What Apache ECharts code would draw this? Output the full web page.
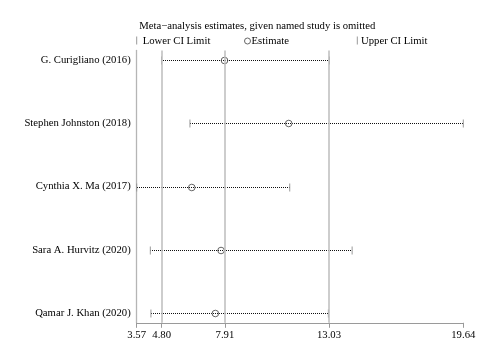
<!DOCTYPE html>
<html>
<head>
<meta charset="utf-8">
<script src="https://cdn.jsdelivr.net/npm/echarts@6/dist/echarts.min.js"></script>
<style>html,body{margin:0;padding:0;background:#fff}#c{width:499px;height:360px}</style>
</head>
<body>
<div id="c"></div>
<script>
// Studies (top to bottom)
const studies = ["G. Curigliano (2016)", "Stephen Johnston (2018)", "Cynthia X. Ma (2017)", "Sara A. Hurvitz (2020)", "Qamar J. Khan (2020)"];
const lowerCI = [4.79, 6.19, 3.57, 4.24, 4.27];
const estimate = [7.89, 11.05, 6.28, 7.72, 7.44];
const upperCI = [13.05, 19.64, 11.10, 14.17, 13.00];
// Overall reference lines (lower, estimate, upper)
const refLines = [4.80, 7.91, 13.03];
const xTicks = [3.57, 4.80, 7.91, 13.03, 19.64];
const xMin = 3.57, xMax = 19.64;

const FONT = "Liberation Serif";
const n = studies.length;
const rowPos = studies.map((s, i) => n - i); // top row = n
const data = studies.map((s, i) => [lowerCI[i], estimate[i], upperCI[i], rowPos[i]]);

const chart = echarts.init(document.getElementById('c'), null, {renderer: 'canvas'});
chart.setOption({
  animation: false,
  backgroundColor: '#fff',
  grid: {left: 136.7, right: 35.7, top: 50.5, bottom: 37.2},
  xAxis: {
    type: 'value', min: xMin, max: xMax,
    axisLine: {show: true, lineStyle: {color: '#9a9a9a', width: 1}},
    axisTick: {show: true, length: 5, customValues: xTicks, lineStyle: {color: '#9a9a9a'}},
    axisLabel: {customValues: xTicks, formatter: v => v.toFixed(2), color: '#000', fontFamily: FONT, fontSize: 10.7, margin: 7},
    splitLine: {show: false}
  },
  yAxis: {
    type: 'value', min: 0.85, max: n + 0.15,
    axisLine: {show: true, lineStyle: {color: '#b5b5b5', width: 1.3}},
    axisTick: {show: false},
    axisLabel: {customValues: rowPos, formatter: v => studies[n - Math.round(v)], color: '#000', fontFamily: FONT, fontSize: 10.7, margin: 6},
    splitLine: {show: false}
  },
  series: [{
    type: 'custom',
    data: data,
    encode: {x: [0, 1, 2], y: 3},
    renderItem: function (params, api) {
      const y = api.value(3);
      const pL = api.coord([api.value(0), y]);
      const pE = api.coord([api.value(1), y]);
      const pU = api.coord([api.value(2), y]);
      const py = Math.round(pL[1]) + 0.5;
      return {
        type: 'group',
        children: [
          {type: 'line', shape: {x1: Math.round(pL[0]), y1: py, x2: Math.round(pU[0]), y2: py},
           style: {stroke: '#111', lineWidth: 1, lineDash: [1, 1]}},
          {type: 'line', shape: {x1: pL[0], y1: py - 4, x2: pL[0], y2: py + 4},
           style: {stroke: '#999', lineWidth: 1}},
          {type: 'line', shape: {x1: pU[0], y1: py - 4, x2: pU[0], y2: py + 4},
           style: {stroke: '#999', lineWidth: 1}},
          {type: 'circle', shape: {cx: pE[0], cy: py, r: 3.3},
           style: {stroke: '#666', fill: 'none', lineWidth: 1}}
        ]
      };
    },
    markLine: {
      silent: true, symbol: 'none', label: {show: false},
      lineStyle: {color: '#bdbdbd', width: 1.5, type: 'solid'},
      data: refLines.map(v => ({xAxis: v}))
    },
    z: 3
  }],
  graphic: [
    {type: 'text', left: 139.3, top: 20.5, style: {text: 'Meta\u2212analysis estimates, given named study is omitted', fill: '#000', font: '10.7px "Liberation Serif"'}},
    {type: 'line', shape: {x1: 136.7, y1: 36.5, x2: 136.7, y2: 44.5}, style: {stroke: '#999', lineWidth: 1}},
    {type: 'text', left: 142.7, top: 35.5, style: {text: 'Lower CI Limit', fill: '#000', font: '10.7px "Liberation Serif"'}},
    {type: 'circle', shape: {cx: 247.5, cy: 41, r: 3}, style: {stroke: '#666', fill: 'none', lineWidth: 1}},
    {type: 'text', left: 251.5, top: 35.5, style: {text: 'Estimate', fill: '#000', font: '10.7px "Liberation Serif"'}},
    {type: 'line', shape: {x1: 357.3, y1: 36.5, x2: 357.3, y2: 44.5}, style: {stroke: '#999', lineWidth: 1}},
    {type: 'text', left: 361, top: 35.5, style: {text: 'Upper CI Limit', fill: '#000', font: '10.7px "Liberation Serif"'}}
  ]
});
</script>
</body>
</html>
